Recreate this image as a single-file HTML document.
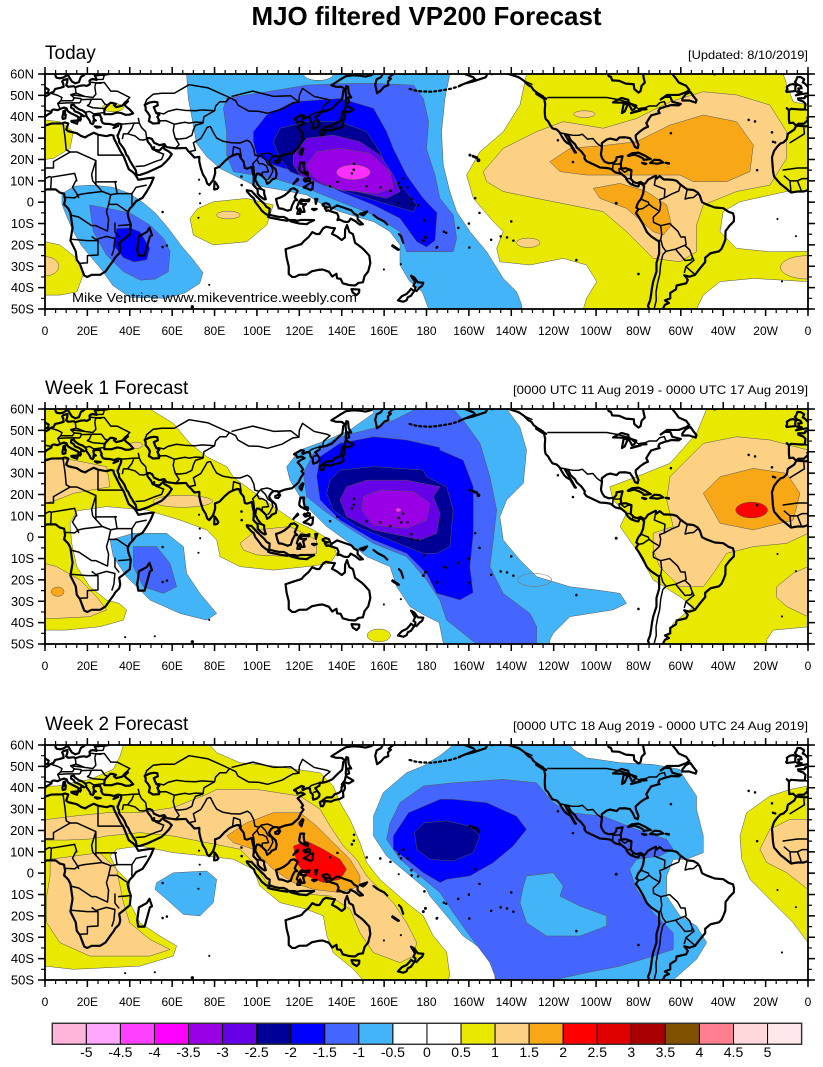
<!DOCTYPE html>
<html><head><meta charset="utf-8"><title>MJO filtered VP200 Forecast</title>
<style>
html,body{margin:0;padding:0;background:#fff;}
svg{display:block;}
.f{stroke:#555;stroke-width:0.5;vector-effect:non-scaling-stroke;stroke-linejoin:round}
.c{fill:none;stroke:#000;stroke-width:2.2;vector-effect:non-scaling-stroke;stroke-linejoin:round;stroke-linecap:round}
.b{fill:none;stroke:#000;stroke-width:0.7;vector-effect:non-scaling-stroke;stroke-linejoin:round}
.g{fill:none;stroke:#777;stroke-width:0.6;vector-effect:non-scaling-stroke}
.lb{fill:#44b4f8}.mb{fill:#4466ff}.bl{fill:#0000ff}.nv{fill:#000096}.vi{fill:#6600e6}.pu{fill:#9a00e6}.mg{fill:#ff30ff}
.ye{fill:#e8e800}.lo{fill:#fcd184}.or{fill:#f8a816}.rd{fill:#ff0000}.wh{fill:#fff}
text{font-family:"Liberation Sans",Arial,sans-serif;fill:#000}
</style></head>
<body>
<svg xmlns="http://www.w3.org/2000/svg" width="823" height="1067" viewBox="0 0 823 1067">
<defs>
<clipPath id="cp"><rect x="0" y="-50" width="360" height="110"/></clipPath>
<g id="coast">
<polygon class="c" points="-17,21 -16.5,14.5 -16,12 -13,8.5 -11,7 -8,4.5 -5,5 -2,5 1,6 5,6 7,4.5 9,4 9.5,1 9,-1 11,-3 12,-5 13,-12 12,-18 14.5,-23 15,-27 16.5,-29 18,-33 18.5,-34.3 20,-35 22,-34 26,-34 28.5,-32.5 31,-29 32.5,-27 33,-26 35,-24 35.5,-22 35,-19 37,-17.5 40,-15 40.5,-10.5 39.3,-7 39,-5 40,-3 41.5,-1.5 43,0.5 46,2 48,5 50,8.5 51.3,11.5 49,11.3 44,10.5 43.3,11.8 42.5,13 41.5,14 39.5,15.5 38.5,18 37.3,21 36.8,22 35.5,24 34,27 33.5,28 32.5,29.9 32.3,31.2 31,31.5 29,30.9 25,31.6 23,32.5 20,31 19,30.3 17,31 15,32.3 11,33.2 10,34 11,36.8 9.5,37.3 8,36.9 3,36.8 -1,35.5 -5.5,35.8 -6.5,34 -9.5,32 -10,29.5 -11.5,28 -13,27.5 -14.5,26 -16,24"/>
<polygon class="c" points="44,-25 47,-25 49.5,-16 50.5,-15.5 49.3,-12 48,-14 44.3,-16 43.8,-20 43.5,-22"/>
<polyline class="c" points="-10,44 -9,43 -9,39 -8.8,37 -7,37.2 -6,36.2 -5.5,36 -4.5,36.7 -2,36.7 -0.5,38 0,38.7 -0.3,39.5 0.5,40.5 3,42 3.2,43 4,43.4 6,43.1 7.5,43.8 9,44.3 10.2,43.9 10.5,43 11,42.4 12.5,41.5 14,40.8 15.6,40 15.8,38.5 16.6,38.2 17,39 16.6,39.7 17.2,40.5 18.5,40.2 17.5,40.9 16,41.8 14,42.6 13.6,43.5 12.3,44.3 12.4,45.5 13.7,45.6 14,44.9 15,44.2 16,43.5 17.5,43 19,42 19.5,41 19.5,40.3 20.5,39 21,38.3 21.5,37 22.5,36.5 23,37.3 22.8,38 24,38.2 23,39 22.8,40.5 24,40.8 26,40.8 26.2,40.1 26.8,39 26.5,38.5 27.3,37 28.2,36.7 30.5,36.6 32.5,36.1 34.5,36.8 36,36.5 35.9,35 35.5,34 35,33 34.5,31.5 34.2,31.3"/>
<polyline class="c" points="34.2,31.3 34.5,30 34.9,29.5 35,28 36.5,26 37.5,24.5 38.5,22 39.2,21.3 40,19.5 41.5,17 42.8,15 43.3,12.7 45,12.8 48.5,14 52,15.6 55,17 57,18.9 58.5,20.5 59.8,22.5 58.5,23.7 56.3,24.9 56,26.2 54,24.2 51.5,24.5 51.5,25.8 50.8,24.8 50,26.5 48.5,28.3 48,30 49.5,30 50.5,29.5 51.5,27.8 54,26.7 56.3,27.2 57.3,25.8 61.5,25.2 66.5,25.4 67.5,24 68.8,22.8 70.5,20.9 72.8,21.2 72.8,19 73.5,16 74.5,13 75.8,11 76.5,8.8 77.5,8 78.2,8.9 79.3,10.3 79.8,11.8 80.3,13.5 80.2,15.8 82.3,16.6 84.8,19.2 86.9,21 88.5,21.8 90.5,22.5 91.5,22.5 92.3,20.7 93.7,19 94.3,16 95.3,15.7 97.6,16.5 98,14 98.5,12 98.5,10 98.3,8 100.3,6 100.4,4 101.3,2.9 103.5,1.3 104.2,1.4 103.4,4 103.4,5.5 102,6.2 100.3,8.3 99.9,9.3 99.2,10.3 99.5,12.5 100,13.4 100.9,13.4 102.5,12.2 104.2,10.5 104.8,8.6 106,9.3 107,10.5 108.9,11.3 109.3,13.4 108.8,15.4 106.5,17.5 105.7,19 106.7,20.7 108,21.6 109.8,21.5 110.4,20.3 110.8,21.4 113,22.2 114.3,22.5 116.5,22.9 118.5,24.6 119.6,25.6 120.7,28 122,29.8 121,30.8 121.8,31.7 120.4,33.7 119.2,35 120.6,36.1 122.5,37 120.8,37.8 119,37.2 118.5,38.5 117.5,38.8 118,39.2 121,40.8 122.2,40.5 121.4,39.4 121.6,38.9 123.6,39.8 125,39.6 125.3,37.7 126.3,37 126.4,35 126.6,34.4 128.2,34.9 129.4,35.9 129.5,37.1 128.4,38.6 127.5,39.8 129.5,41 129.7,42.4 130.7,42.3 132.9,42.8 135.5,43.9 138.2,46.6 140.2,48.4 140.5,50.1 140.7,52 141.4,53 139.9,54 137.4,54 135.1,54.7 137,55.9 139.5,57.5 142,59 145.5,59.4 148.5,59.2 151.3,58.8 154,59.5 157,61.5 160,61 158.5,58.5 156.5,57.5 155.8,55 156.7,51 158.5,52.3 160,54 162,54.8 161.8,56.5 163.2,57.8 162.2,58.2 164,59.8 166,60.3 170,60 173,61.5"/>
<polyline class="c" points="-9,43 -8,43.7 -4,43.4 -1.5,43.4 -1.2,46 -2.2,47.1 -4.5,47.9 -4.7,48.6 -1.6,48.7 -1.3,49.6 0.2,49.5 1.6,50.2 2.5,51.1 4,51.6 4.8,53 7,53.5 8.8,54 8.6,55.5 8.1,56.5 8.6,57.1 10.6,57.7 10.5,56.2 10,54.7 11,54 13.5,54.3 14.3,53.8 16.5,54.5 18.5,54.7 19.7,54.4 21.2,55.2 21,56.8 21.6,57.4 22.6,57.7 24.3,57.2 24,58.3 23.5,59.2 26,59.6 28,59.6 30,60 29,60.5"/>
<polyline class="c" points="4.8,61 5,59 5.5,58.2 7,58 8.5,58.3 10.5,59.5 11.2,59 11.9,57.7 12.7,56.5 14.3,55.6 16,56.2 16.5,57.5 17,58.7 18.5,59.5 17.5,61"/>
<polyline class="c" points="21.4,61.5 21.5,60.5 22.8,60 26,60.4 28,60.6"/>
<polygon class="c" points="-5.7,50 -3,50.6 1.4,51.2 1.7,52.7 0.3,53.5 -0.5,54.5 -1.6,55.6 -2.5,56 -1.8,57.5 -3.5,58.6 -5,58.6 -5.6,57 -6.2,56.3 -5,55 -3.5,54.5 -3,53.4 -4.6,53.2 -4.2,52.2 -5.2,51.7 -3,51.5"/>
<polygon class="c" points="-10,51.6 -6,52 -6,53.9 -5.6,54.6 -7,55.3 -8.5,55 -10,54 -9.8,53 -10.3,52"/>
<polygon class="c" points="28,41.2 28,43 28.6,44.3 29.6,45.3 30.8,46.5 31.8,46.5 33.5,46 32.5,45.4 33.6,44.5 35,44.8 36.5,45.2 38,46.9 39.2,47.2 38.2,46.3 37.6,45.5 38.3,44.7 40,43.4 41.6,41.6 40,41 38,40.9 36,41.7 34,42 31.5,41.2 29,41.2"/>
<polygon class="c" points="47,45.5 49.2,46.6 51.2,47 53,46.8 53.2,45.3 51.3,44.5 52.5,41.7 54,41 53,40 54,38 53.8,37 51,36.8 49,38 49.5,40.2 48.6,41.8 47.5,43 47.5,44.5"/>
<polygon class="c" points="12.4,38 15.6,38.3 15.1,36.7 12.6,37.6"/>
<polygon class="c" points="8.4,39 9.6,39.2 9.8,41 8.5,41 8.2,40"/>
<polygon class="c" points="8.6,41.6 9.4,41.4 9.5,43 8.7,42.6"/>
<polygon class="c" points="23.5,35.5 26.3,35.2 24.5,34.9"/>
<polygon class="c" points="32.3,34.7 34.6,35.7 33,35.3"/>
<polygon class="c" points="79.8,6 80,9.7 81,8.5 81.8,7 81.2,6.2 80.2,6"/>
<polygon class="c" points="130.9,34 132,33.8 135,33.5 136.8,34.3 139,34.7 140.8,35.7 140.6,38 141.5,39.5 141.4,41.4 140,40.5 139.8,38.5 138.5,37.5 136.7,37 135.5,35.5 133,35.5 131.5,34.5"/>
<polygon class="c" points="129.7,33.3 131,33.9 131.9,33 131.2,31.4 130.2,31.3 129.8,32.7"/>
<polygon class="c" points="140,41.5 141.5,42.5 143.3,42 145.5,43.3 144.5,44 141.9,45.4 141.5,43.5"/>
<polygon class="c" points="142,46 143.5,46.7 143,49 144.5,49 143.3,51 143,54 142.2,54.3 141.8,52 142.1,49 141.9,47"/>
<polygon class="c" points="120.2,22.8 121,22 121.9,25 121.5,25.3 120.1,23.5"/>
<polygon class="c" points="108.6,19.2 110.6,20.1 111,19.7 110,18.3 108.7,18.5"/>
<polygon class="c" points="120,16 120.5,18.5 122.3,18.5 122,17 122.5,14.2 124,13.9 124,12.6 121.5,13.8 120.6,14.3 120,15"/>
<polygon class="c" points="122,7 123.5,7.8 125,9 126.5,9.3 126.2,6.3 125.4,5.6 124,6.3 122.2,6.8"/>
<polygon class="c" points="122.5,11 123.2,10.6 124,11.5 125,11 125,10 124,10 122.8,9.6 122,10.5"/>
<polygon class="c" points="117.5,9 119.5,10.5 119.2,11 117.2,8.5"/>
<polygon class="c" points="109,1.5 109.6,-1 110.3,-2.9 111.7,-3 114.5,-4 116,-3.5 116.6,-1.5 117.8,0.8 119,1 117.8,2.2 119.2,5.3 117.5,6.5 116,6.2 115,4.8 113,3.2 111.5,2.4 110,1.8"/>
<polygon class="c" points="95.2,5.6 97.5,5.2 100.3,2.2 103.5,-0.8 104.5,-2.2 106,-3 105.8,-5.8 104.5,-5.8 102.3,-4 101,-2.2 99.1,0.2 98.6,1.8 97.2,2.9 95.3,5"/>
<polygon class="c" points="105.2,-6.8 106,-5.9 108,-6.4 110.5,-6.9 112.7,-6.9 114.4,-7.8 114.4,-8.7 111,-8.2 108.7,-7.7 106.4,-7.3"/>
<polygon class="c" points="119,-5.5 119.5,-3.5 118.8,-2.8 119.8,0.1 120.8,1.3 123,0.9 124.8,1.4 124.5,0.4 121.5,0.6 120.2,-0.6 121.6,-1 123.2,-0.8 121.8,-2 122.5,-4.5 121.3,-4.6 120.3,-2.9 120.4,-5.5"/>
<polygon class="c" points="115,-8.3 118,-8.4 119,-8.7 120.8,-8.3 122.8,-8.3 125,-8.3 127,-8.4 124.5,-9.6 123.5,-10.3 120,-10 116,-9"/>
<polygon class="c" points="127.5,1.5 128.5,1.5 128,0 127.8,-0.8"/>
<polygon class="c" points="126,-3.2 128.2,-3.2 127,-3.8"/>
<polygon class="c" points="131,-1 132.5,-0.4 134,-1 135,-3.3 137.8,-1.5 141,-2.6 144.5,-3.8 146,-5.5 147.5,-6.2 147.5,-8 150,-10.3 148.5,-10.5 146.3,-8.8 144.2,-7.7 143.4,-9 142.6,-9.3 141,-9.1 139,-8.1 138,-8.4 138.5,-6.8 137.8,-5.2 135.2,-4.4 133.6,-3.8 132.8,-4.1 132,-2.8 133.5,-2.4 132.2,-2.2 131,-1.5"/>
<polygon class="c" points="148.5,-5.5 152,-4.3 151,-5.5 150,-6.2"/>
<polyline class="c" points="155,-6 157,-7.5 159,-8.5 160,-9 161.5,-10.5"/>
<polygon class="c" points="164,-20.2 167,-22.2 166.5,-22.3 163.8,-20.5"/>
<polyline class="c" points="167,-15 168,-16 169,-19"/>
<polygon class="c" points="113.5,-22 114,-26 115,-30 115,-33.6 116.6,-35 118,-35 119.9,-34 123.5,-33.9 126,-32.3 129,-31.7 131,-31.5 134,-32.6 135.5,-34.8 137.5,-33.5 137.8,-35.6 139.5,-35.9 140.5,-38 143.5,-38.8 146.3,-39 147.9,-37.8 150,-37.5 150.8,-34.5 152.5,-32.4 153.5,-28.5 153,-25 150.8,-22.6 149.3,-21.2 146.3,-19 145.3,-15 143.6,-14 142.5,-10.7 141.6,-12.9 141.5,-16.5 140,-17.7 137.7,-16 135.4,-14.8 136.8,-12.2 135,-12 132.6,-11.5 131.3,-12.2 129.5,-14.9 128,-14.9 126.1,-14 124.4,-16.3 122.2,-18.2 121,-19.6 117.4,-20.7 114.2,-21.8"/>
<polygon class="c" points="144.6,-40.7 148.3,-40.9 148.2,-42.3 147,-43.5 145.2,-42.3"/>
<polygon class="c" points="172.7,-34.4 174.3,-35.3 175.9,-37.5 178.5,-37.7 177.9,-39.2 176.8,-39.9 175.3,-41.6 174.6,-41.2 174.8,-39.8 173.8,-39.2 174.6,-37.5"/>
<polygon class="c" points="172.7,-40.5 174.2,-41.7 173.2,-43 172.7,-43.8 171.2,-44.5 170.6,-45.9 169,-46.6 166.5,-46 168.4,-44 170.6,-43 172.1,-41.4"/>
<polyline class="c" points="-165,62 -162,60 -158,58.5 -157,57.5 -162,55.5 -164.5,54.5 -162,55.5 -158,56.5 -155,57.5 -152,58.5 -151,60.7 -149,59.9 -146,60.8 -141,59.9 -138,59 -136,58.2 -134,56.8 -132,54.8 -130.5,54 -129.5,52.5 -127.5,51 -125,49.5 -124.5,48.4 -124,46 -124.2,43 -124.1,40.5 -123.8,39 -122.5,37.7 -121.9,36.5 -120.6,34.6 -118.5,34 -117.2,32.7 -116,30.5 -115,29 -114,28 -112.2,27 -110,23.3 -109.5,23.2 -110.3,24.3 -111.5,26.5 -112.8,28.5 -114.7,31.7 -113,31.2 -112,29 -110,27.2 -109,25.5 -107,23.8 -105.3,21.5 -105.5,20.5 -104.5,19.2 -101,17.6 -98,16.2 -95,16 -93,15.6 -91,14 -88,13.2 -86,11.6 -85.7,10.8 -85,9.7 -83.5,8.4 -81,7.5 -80,7.4 -79.5,8.9 -78,8.3 -77.3,7.5 -77.8,4 -78.8,1.5 -80,0 -80.5,-1 -81,-2.5 -80,-3.3 -81.2,-5 -79.8,-7 -78,-10 -76,-14 -74,-16 -71.3,-17.8 -70.3,-18.3 -70.2,-24 -71.5,-28.5 -71.5,-32.5 -73,-37 -73.6,-40 -74,-43 -74.5,-46 -75.5,-48.5 -74.5,-51 -73,-54 -70,-55 -68.5,-52.5 -69,-51 -67.5,-48 -65.6,-47.2 -67.5,-46 -65,-45 -65,-42.5 -62.3,-40.8 -62,-39 -57.5,-38 -56.7,-36.4 -57.5,-35.2 -58.4,-34.2 -56,-34.9 -53.3,-34 -51,-31 -48.5,-28 -48.5,-26 -46,-23.9 -42,-23 -40.8,-21.8 -39.8,-19.6 -39,-17.5 -38.9,-13.5 -37,-11 -35,-9 -34.9,-7 -35.4,-5.2 -37.5,-4.5 -40,-2.8 -44,-2.5 -48,-1 -50,0 -51,3 -52,4.5 -54,5.7 -57,6 -58.5,7 -60.5,8.5 -62,10 -64,10.5 -66,10.6 -68,10.6 -70,12.2 -71.5,11 -71.8,12.4 -74,11.3 -75.5,10.5 -76.8,8.7 -77.5,8.6 -79,9.5 -80.6,8.9 -82,9.3 -83.6,10.8 -83.5,12.5 -83.3,15 -86,15.9 -88.2,15.7 -88.3,18.2 -87.5,21.5 -90.3,21 -90.5,19.7 -91.5,18.5 -94,18.2 -96,19 -97.2,20.7 -97.7,22.3 -97.2,25.9 -97.3,27.6 -95,29.3 -93.3,29.8 -90.3,29.1 -89,30.3 -86.5,30.4 -84,30 -82.6,28 -81.7,25.9 -80.4,25.2 -80,26.8 -81.2,29.8 -81.3,31.3 -79.2,33.2 -77,34.7 -75.5,35.3 -76.3,37 -75.2,38.8 -74,40.6 -72,41.2 -70,41.7 -70.6,42.6 -70,43.8 -67,44.8 -66,45 -64.5,45.5 -61,45.3 -60,46 -64,47 -65,49.3 -67.5,49.3 -69.5,48.1 -66.5,50.2 -61,50.2 -57.5,51.5 -56,52.5 -57.5,54.5 -61,56 -62,57.5 -64.3,60.3 -66,62"/>
<polyline class="c" points="-95,61 -94,59 -93,58.7 -92.4,57 -89,56.8 -86,55.5 -82.2,55.2 -82,53 -80,51.3 -79,52 -78.5,54.5 -77,56 -77.5,58 -78,61"/>
<polygon class="c" points="-59.3,47.6 -56,47.6 -53,46.6 -52.6,47.8 -54,49.5 -55.5,51.6 -57.5,50.7 -59.3,48.5"/>
<polygon class="c" points="-85,21.8 -83,22.9 -80,23.2 -77,21.8 -75.6,21 -74.2,20.2 -77.5,19.8 -78,20.6 -80,21.6 -82,22.3 -84.8,21.6"/>
<polygon class="c" points="-74.5,18.3 -72.5,19.9 -69.9,19.7 -68.3,18.6 -71,18 -72.5,18.2"/>
<polygon class="c" points="-78.3,18.4 -76.3,18 -77,17.8"/>
<polygon class="c" points="-67.2,18.4 -65.6,18.3 -65.7,18"/>
<polygon class="c" points="-92,46.7 -84.5,46.5 -84.8,47.9 -88,48.8 -90,47.8"/>
<polygon class="c" points="-87.8,41.7 -87,46 -85,45.8 -86.5,42.5"/>
<polygon class="c" points="-84.5,45.8 -83,43 -82,43.5 -81,45.2 -84,46.2"/>
<polygon class="c" points="-83.5,41.7 -79,42.9 -81,42.6"/>
<polygon class="c" points="-79.8,43.3 -76.2,43.5 -77,44 -79,43.8"/>
<polygon class="c" points="-128.3,50.8 -123.5,48.4 -125,48.7"/>
<polyline class="c" points="-50,62 -48,61 -44,59.8 -42,61"/>
<g class="b">
<polyline points="-2,35 -1.7,32 -8.7,27.7"/>
<polyline points="8.5,36.9 9.5,30 10,24.5 11.9,23.5 15,23.5 24,19.5 24,8"/>
<polyline points="25,31.6 25,22 36.9,22"/>
<polyline points="-12,15 -5,16 4,16 4,19 11.9,23.5"/>
<polyline points="3,11.7 14,13.5 15,10 14.5,10 13,7 15,4 16,2"/>
<polyline points="24,19.5 22,13 22.5,10 27,5"/>
<polyline points="33,10 34,4 41,4 43,7 48,8"/>
<polyline points="9.5,2.2 11.3,2.2 14,2 16,3.5 18.5,4 27,5 31,3.5 34,4"/>
<polyline points="12,-6 16,-7 22,-11 24,-11 29.5,-13.5 30,-8 29,-4.5 30,-1 31,3.5"/>
<polyline points="11.7,-17.3 20,-18 25,-18 25,-24.7 20,-25 20,-28.4 16.5,-28.6"/>
<polyline points="22,-16 24,-17.5 29,-16 33,-17 32.5,-22 31.5,-25"/>
<polyline points="30,-1 34,-1 37.6,-3.5 39.5,-4.7"/>
<polyline points="34.5,-11 40.4,-10.5"/>
<polyline points="33,-9.5 33,-14 35,-16.5"/>
<polyline points="-11.4,12.4 -8.5,10 -5,10 -2.8,11 0,11 2,12 3,11.7 2.7,6.3"/>
<polyline points="-8.5,10 -8,4.4"/><polyline points="-5,10 -3,5"/><polyline points="-0.1,11 -0.1,5.8"/>
<polyline points="24,9.5 34,9.5"/><polyline points="41,-1.5 41,4"/>
<polyline points="-1.8,43.4 3.2,42.4"/>
<polyline points="2.5,51.1 6,50 8,49 7.5,47.5 6,46.2 7,44"/>
<polyline points="14.3,53.8 14.6,51 12.1,50.3 13.8,48.8 13,47.5 10,47.5 7.5,47.5"/>
<polyline points="6,46.2 10.5,46.5 13.7,46.5 16.5,46.5"/>
<polyline points="23.5,54 24,50.5 22.6,49 18.8,49.5 16.5,50.4 14.6,51"/>
<polyline points="12.1,50.3 18.8,49.5"/><polyline points="13.8,48.8 17,48.5 17,47.7 16.5,46.5"/>
<polyline points="17,48 22.6,48.2 26.6,48.2 28.2,46 29.6,45.3"/>
<polyline points="22,48.4 21,46 20,45.2 22.6,44.2 28,43.8"/>
<polyline points="19,42 21,42.5 23,41.3 26,41.7 28,42"/>
<polyline points="23.5,54 24,55.8 28,56 31,52 34,52 38,50 40,49 38,47"/>
<polyline points="21,56.2 26.6,55.6"/><polyline points="21.6,57.4 27.4,57.5 28,59.5"/>
<polyline points="47,45.5 48,48 51,50.5 55,51 61,51 68,55 77,53.5 87,49"/>
<polyline points="53,42 56,41.3 58,42.5 62,43.5 66,43 71,42.8 74,43.2 80,42.8 80.5,45 82.5,47 85.5,47 87,49"/>
<polyline points="53,38 57,38.2 61,36.5 66,37.4 68,37 71,37.5 75,37.3"/>
<polyline points="44,39.5 44.5,37 45.5,35 47.5,33 48,30"/>
<polyline points="36,36.5 42,37 44.5,37"/>
<polyline points="42,37 41,34.5 39,32 37,32 36.5,29.5"/>
<polyline points="39,32 42.5,31 44.7,29.2 46.5,29.1 48,29.5"/>
<polyline points="42.7,16.7 47,17 52,19 55,20 56,22.5 52,24"/>
<polyline points="61,36.5 60.5,33.6 61,31.5 61.5,29.8 63,29.5 66.5,29.9 69.3,31.3 70,33.8 71,36 74.5,37"/>
<polyline points="61.5,29.8 62.5,28.3 63.3,27 61.6,25.2"/>
<polyline points="68.2,23.7 71,24.3 70,27.8 73.5,29.8 75,32.3 76.5,35 78,35.5"/>
<polyline points="78,35.5 79.5,32.5 81,30 84,28.5 88,27.8 92,27.7 95.5,29 97,28"/>
<polyline points="88.5,21.8 89,26 92,25 92.6,21"/>
<polyline points="97,28 98.5,25 99,22 101,21.5 100,20 98,18 98.5,16.5 99,10.5"/>
<polyline points="101,21.5 102,22.5 105,23 106.5,22.5 108,21.5"/>
<polyline points="102,22 104,20 105,18 107,16.5 107.5,14.5 106,11.5 105,10.5"/>
<polyline points="100,20 101,18 102.5,18 104.5,17 105.5,14.3 102.5,14 102.5,12.2"/>
<polyline points="100.3,6.5 102,6"/>
<polyline points="87,49 90,47.5 91,45.5 96,42.7 101,42.5 105,41.6 112,43.6 114,44.8 117,46.5 119.8,46.8 116,49.8 108,49.5 98,52 88,49.5"/>
<polyline points="119.8,46.8 120,50 121.5,53.3 127,49.5 133,48.2 134.5,47.5 131.5,45 131,42.5 130.5,42.5"/>
<polyline points="124.3,40 126,41.2 128.5,42 130.5,42.5"/>
<polyline points="126.5,37.8 128.5,38.3"/>
<polyline points="74.5,37 75,40 80,42.8"/>
<polyline points="-123,49 -95,49 -89.5,48 -84,46.5 -82.5,45 -79,43.3 -75,45 -71.5,45 -70,46.5 -67.8,47.1 -67,45"/>
<polyline points="-141,59.9 -141,62"/><polyline points="-137,59 -133.5,56.5 -130,55"/>
<polyline points="-117.1,32.5 -111,31.3 -108.2,31.3 -106.5,31.8 -104,29.5 -101.5,29.8 -99.5,27.5 -97.2,25.9"/>
<polyline points="-92.2,14.5 -92,17.8 -89,17.9 -88.3,18.2"/>
<polyline points="-89.2,15.9 -89,14.3 -87.5,13"/><polyline points="-88.9,15.9 -86.5,14 -85,14.9 -83.2,15"/>
<polyline points="-85.7,11.1 -83.7,11"/><polyline points="-82.9,8.2 -82.6,9.6"/><polyline points="-77.9,7.2 -77.3,8.7"/>
<polyline points="-71.9,11.5 -72.5,8 -70,7 -67.5,6 -67.8,2 -70,1.2 -69.5,-1 -70,-4.2"/>
<polyline points="-78.8,1.4 -75.3,0 -75,-1 -78,-3 -80.3,-3.4"/><polyline points="-75,-1 -73,-2.5 -70,-4.2"/>
<polyline points="-60,8.5 -61,5.2 -64,4 -67.8,2"/><polyline points="-57,6 -58,1.5 -56,2 -54,2.2 -51.7,4.2"/>
<polyline points="-70,-4.2 -73,-7 -72.9,-9.4 -69.5,-11 -65.3,-10 -61.5,-13.5 -60,-16.3 -58,-16.3 -57.5,-19.9 -58.2,-20.2"/>
<polyline points="-69.5,-11 -69,-15 -69.5,-17.5 -70.3,-18.3"/><polyline points="-69.5,-17.5 -68.5,-21 -67,-23 -68.5,-24.5"/>
<polyline points="-68.5,-24.5 -69.5,-29 -70,-34 -71,-38 -71.7,-42 -71.6,-46 -72.5,-49.5 -71.9,-52"/>
<polyline points="-67,-23 -62.5,-22 -58.2,-20.2"/><polyline points="-62.5,-22 -61,-23.8 -58,-27.3 -55,-27 -54.6,-25.6"/>
<polyline points="-58.2,-20.2 -55.8,-22.3 -54.6,-25.6 -53.8,-27.2 -57.6,-30.2 -58.4,-33.2"/>
<polyline points="-57.6,-30.2 -53.5,-33.7"/>
</g>
</g>
<g id="dots" fill="#000">
<polyline class="c" stroke-dasharray="2 3" points="172,53 175,52.2 178,51.8 180,51.8 182,51.7 185,52 188,52.5 191,53 194,53.8 196,54.5"/>
<circle cx="200.5" cy="22" r="0.7"/><circle cx="202" cy="21.5" r="0.7"/><circle cx="203" cy="21.1" r="0.7"/><circle cx="203.7" cy="20.8" r="0.7"/><circle cx="204.5" cy="19.6" r="0.9"/>
<circle cx="134.5" cy="7.5" r="0.6"/><circle cx="138" cy="9.5" r="0.6"/><circle cx="144.8" cy="13.5" r="0.6"/><circle cx="145.7" cy="15.2" r="0.6"/><circle cx="145.8" cy="18" r="0.6"/>
<circle cx="151.8" cy="7.4" r="0.6"/><circle cx="158.2" cy="6.9" r="0.6"/><circle cx="163" cy="5.3" r="0.6"/><circle cx="168" cy="7" r="0.6"/><circle cx="171" cy="7" r="0.6"/>
<circle cx="169" cy="11" r="0.6"/><circle cx="167" cy="9" r="0.6"/><circle cx="172.9" cy="1.4" r="0.6"/><circle cx="173" cy="-1" r="0.6"/><circle cx="176" cy="-1.5" r="0.6"/>
<circle cx="179" cy="-8.5" r="0.6"/><circle cx="178.5" cy="-18" r="0.7"/><circle cx="179.5" cy="-16.5" r="0.7"/><circle cx="185" cy="-21" r="0.6"/><circle cx="188.2" cy="-13.8" r="0.6"/>
<circle cx="189.3" cy="-14.3" r="0.6"/><circle cx="184.8" cy="-21.2" r="0.6"/><circle cx="200.2" cy="-21.2" r="0.6"/><circle cx="210.5" cy="-17.6" r="0.6"/><circle cx="215" cy="-16" r="0.6"/>
<circle cx="218" cy="-16.5" r="0.6"/><circle cx="220" cy="-9" r="0.6"/><circle cx="221" cy="-18" r="0.6"/><circle cx="203" cy="1.9" r="0.6"/><circle cx="205" cy="-5" r="0.6"/>
<circle cx="200" cy="-10" r="0.6"/><circle cx="195" cy="-12" r="0.6"/><circle cx="250.7" cy="-27.1" r="0.6"/><circle cx="269.5" cy="-0.5" r="0.7"/><circle cx="280" cy="-33.6" r="0.6"/>
<circle cx="242" cy="29" r="0.6"/><circle cx="249.1" cy="18.8" r="0.6"/><circle cx="295.3" cy="32.3" r="0.6"/><circle cx="332" cy="38.5" r="0.6"/><circle cx="335" cy="37.8" r="0.6"/>
<circle cx="343" cy="32.7" r="0.6"/><circle cx="344.5" cy="28" r="0.6"/><circle cx="343.5" cy="28.3" r="0.6"/><circle cx="336" cy="15" r="0.6"/><circle cx="345.6" cy="-7.9" r="0.5"/>
<circle cx="354.3" cy="-15.9" r="0.5"/><circle cx="347.7" cy="-37.1" r="0.5"/><circle cx="55.5" cy="-21" r="0.6"/><circle cx="57.5" cy="-20.3" r="0.6"/><circle cx="55.5" cy="-4.6" r="0.6"/>
<circle cx="73" cy="4" r="0.5"/><circle cx="73.2" cy="-0.5" r="0.5"/><circle cx="72.4" cy="-7.3" r="0.5"/><circle cx="92.7" cy="12" r="0.6"/><circle cx="92.8" cy="8" r="0.6"/>
<circle cx="72.7" cy="10.5" r="0.5"/><circle cx="77.5" cy="-38.7" r="0.5"/><circle cx="69.5" cy="-49" r="0.8"/><circle cx="37.8" cy="-46.8" r="0.5"/><circle cx="51.8" cy="-46.4" r="0.5"/>
<circle cx="166.9" cy="-0.5" r="0.5"/><circle cx="159.9" cy="-31.5" r="0.5"/><circle cx="167.9" cy="-29" r="0.5"/>
</g>
</defs>

<rect width="823" height="1067" fill="#fff"/>
<text x="426.5" y="25" font-size="26" font-weight="bold" text-anchor="middle" textLength="350" lengthAdjust="spacingAndGlyphs">MJO filtered VP200 Forecast</text>

<!-- PANEL 1 -->
<g transform="matrix(2.119444 0 0 -2.136364 45 202.182)">
<g clip-path="url(#cp)">
<rect x="0" y="-50" width="360" height="110" fill="#fff"/>
<polygon class="f lb" points="66.8,60 67.6,48.6 70,36 71.5,27.5 76.3,21.3 82.6,15.8 92,11.2 98.3,8 110,6 123.5,3.4 131.3,-1.3 139.2,-4.4 147,-6.8 155,-9.1 162.8,-13.8 167.5,-20 167.5,-29.4 172,-37 178,-42 181,-50 225,-50 224.9,-48 222.5,-41.9 216.2,-35.7 208.4,-23.2 200.5,-13.8 194.2,-4.4 191,5 187.9,17.4 187.1,33 188.7,48.6 191,60"/>
<ellipse class="f wh" cx="129" cy="60" rx="7" ry="3"/>
<polygon class="f lb" points="8,4 14,7.5 22,8 32,7 40,4 46,0 52,-5 58,-12 64,-20 70,-27 74.5,-33 73,-38 66,-42.5 57,-45 40,-44.5 32,-39 27,-32 22,-26 17,-20 13,-13 10,-6 8,-1"/>
<polygon class="f mb" points="21,-1.3 30,-3 40,-5 49.5,-10.7 56,-17 59,-23 58.2,-32.5 52,-36 45,-36.5 37,-32.5 29,-24.7 22.8,-13.8"/>
<polygon class="f bl" points="33.8,-12.3 40,-12 44.8,-13.8 49.5,-21.6 48,-27 42,-28 37,-26 32.2,-20"/>
<polygon class="f mb" points="85.7,48.6 95.2,50.2 110,52.5 123.5,54.8 140,55.5 155,55.6 173.8,54.8 178.5,48.6 181,37.7 180,25 184,12.7 186.3,1.8 192.6,-6 194.2,-17 192.6,-23.2 183.2,-23.2 176.9,-23.2 170.6,-23.2 167.5,-13.8 155,-6 139.2,0.2 123.5,6.5 107.7,11.2 88.9,14.3 85.7,22 85.7,33 84.2,43.9"/>
<polygon class="f bl" points="98.3,28.3 98.3,33 104.6,40.8 117.2,47 139.2,48.6 155,44 161.2,33 164.3,25.2 170.6,12.7 178.5,1.8 185,-5 184,-18 180,-21 175.4,-18.5 167.5,-7.6 155,-1.3 139.2,5 123.5,12.7 107.7,17.4 99.9,22"/>
<polygon class="f nv" points="107.7,28.3 110.9,34.6 123.5,37.7 139.2,37.7 151.8,33 158,23.6 162.8,12.7 170.6,5 175.4,-1.3 173.8,-4.4 162.8,-1.3 147,3.4 131.3,8 115.6,14.3 110.9,20.5"/>
<polygon class="f vi" points="117.2,22 123.5,29.9 136,31.4 148.6,28.3 158,22 164.3,12.7 167.5,5 161.2,1.8 147,5 131.3,8 120.3,12.7 117.2,17.4"/>
<polygon class="f pu" points="123.5,17.4 128.2,23.6 139.2,25.2 153.3,22.9 162.8,14.3 164.3,6.5 156.5,4.1 139.2,5.7 129.8,9.6 125,13.5"/>
<ellipse class="f mg" cx="145.5" cy="14" rx="8" ry="3.5"/>
<polygon class="f ye" points="0,38.5 7,37.7 13.4,33 11.8,25.2 4,20.5 0,20"/>
<ellipse class="f ye" cx="32" cy="44.3" rx="5" ry="2"/>
<polygon class="f ye" points="0,-18.5 7,-20 15,-26.3 18,-34 15,-42 7,-43.5 0,-43.5"/>
<ellipse class="f lo" cx="0" cy="-30" rx="6.5" ry="4.5"/>
<polygon class="f ye" points="68.4,-7.6 72,-3 79.4,0.2 95.2,1.8 107.7,-1.3 104.6,-10.7 95.2,-18.5 79.4,-20 70,-15.4"/>
<ellipse class="f lo" cx="86.5" cy="-6" rx="5.5" ry="1.8"/>
<polygon class="f ye" points="227.2,60 224.1,45.5 216.2,33 205.2,23.6 198.9,12.7 202.1,1.8 211.5,-9.1 216.2,-13.8 213.1,-21.6 214.6,-27.9 228.8,-29.4 244.5,-26.3 255.5,-29.4 260.3,-37.2 255.5,-45 254,-50 307.4,-50 310.6,-43.5 318.5,-37.2 334.2,-35.7 360,-37.2 360,-23 342,-23.2 326.3,-21.6 318.5,-13.8 320,-4.4 327.9,0.2 349.9,5 360,5 360,45.5 353,47 350,55 348.3,60"/>
<polygon class="f lo" points="208.4,9.6 206.8,14.3 216.2,25.2 231.9,33 244.5,37.7 263.4,34.6 279.1,39.2 294.9,47 310.6,51.7 326.3,50.2 342,45.5 349.9,33 349.9,20.5 342,8 326.3,5 310.6,-1.3 307.4,-10.7 307.4,-23.2 299.6,-27.9 287,-26.3 274.4,-13.8 263.4,-4.4 247.7,-1.3 231.9,1.8 216.2,5"/>
<ellipse class="f lo" cx="254.5" cy="41.2" rx="5" ry="1.6"/>
<ellipse class="f lo" cx="228" cy="-19" rx="5.5" ry="2.2"/>
<ellipse class="f lo" cx="360" cy="-30.5" rx="13" ry="5.5"/>
<polygon class="f or" points="238.2,18.9 247.7,25.2 265,26.7 279.1,28.3 294.9,36.1 310.6,40.8 326.3,37.7 334.2,26.7 332.6,14.3 321.6,9.6 305.9,9.6 299.6,12.7 279.1,12.7 255.5,12.7 243,14.3"/>
<polygon class="f or" points="258.7,6.5 271.3,8.8 283.8,5 293.3,-1.3 295.6,-10.7 291.7,-15.4 287,-13.8 274.4,-2.9 261.8,1.8"/>
<use href="#coast"/><use href="#coast" x="360"/>
<use href="#dots"/>
</g></g>

<!-- PANEL 2 -->
<g transform="matrix(2.119444 0 0 -2.136364 45 537.182)">
<g clip-path="url(#cp)">
<rect x="0" y="-50" width="360" height="110" fill="#fff"/>
<polygon class="f ye" points="0,60 49.5,60 60.5,53.3 68.4,43.9 76.3,37.7 85.7,33 89,28 95,23.6 101.4,19 107.7,14.3 117,8 126.6,3.4 134.5,-1.3 137.6,-7.6 134.5,-12.3 123.5,-13.8 107.7,-15.4 92,-13.8 82.6,-9.1 81,-1.3 76.3,3.4 63.7,8 48,12.7 29,14.3 15,12.3 11.8,6.5 12.6,-2.9 15,-13.8 21,-23 29,-29.4 35,-31 38.5,-34 37,-38.8 26,-41.9 10,-43.5 0,-43.5"/>
<polygon class="f lo" points="0,36.9 13.4,36.1 29.1,33 30.7,23.6 21.2,22 13.4,20.5 5.5,17.4 0,15.8"/>
<ellipse class="f lo" cx="65" cy="16.8" rx="14" ry="2.8"/>
<ellipse class="f lo" cx="43" cy="43" rx="3" ry="1.5"/>
<polygon class="f lo" points="92,-2.9 99.9,3.4 115.6,5 128.2,-1.3 128.2,-7.6 115.6,-9.1 99.9,-8.3 93.6,-6"/>
<polygon class="f lo" points="0,-12.3 5.5,-13.8 16.5,-20 24.4,-27.9 29.1,-34 21.2,-37.2 5.5,-38 0,-38"/>
<ellipse class="f or" cx="6" cy="-25.5" rx="3" ry="2.2"/>
<ellipse class="f ye" cx="157.5" cy="-46" rx="5.5" ry="3"/>
<polygon class="f lb" points="30.7,-1.3 41.7,1.8 57.4,1.8 65.3,-4.4 66.8,-16.9 73.1,-26.3 81,-35.7 76.3,-38.8 63.7,-35.7 49.5,-29.4 38.5,-18.5 32.2,-9.1"/>
<polygon class="f mb" points="41.7,-4.4 52.7,-4.4 59,-12.3 62.1,-23.2 55.8,-26.3 46.4,-23.2 41.7,-13.8"/>
<polygon class="f lb" points="155,60 155,58 143.9,50.2 132,45 120.3,40.8 114,33 115.6,26.7 120.3,19 123.5,14.3 132.9,5 143.9,-2.9 151.8,-9.1 162.8,-13.8 166,-23.2 172.2,-32.5 178,-36 186,-40 188,-50 238.2,-50 238.2,-48 239.8,-45 247.7,-37.2 268.1,-34 274.4,-31 271.3,-26.3 260.3,-24.7 247.7,-23.2 232,-18.5 224.1,-10.7 216.2,-1.3 214.6,9.6 217.8,17.4 225.7,25.2 227.2,40.8 224,51.7 217.8,60"/>
<polygon class="f mb" points="155,51 143,48 136,45.5 126.6,39.2 121.9,29.9 123.5,19 131.3,12.7 142.3,5 155,-2.9 170.6,-9.1 180,-20 186.3,-29.4 189.5,-38.8 203.6,-50 231.9,-50 232,-41.9 228.8,-35.7 216.2,-26.3 209.9,-13.8 211.5,-1.3 213.1,12.7 209.9,28.3 205.2,44 197.3,54.8 192.6,60 175,60 165,55"/>
<polygon class="f bl" points="129.8,37.7 139.2,44 155,47 170.6,45.5 186.3,42 186.3,40.8 197.3,36.1 202.1,23.6 202.1,1.8 200.5,-13.8 202,-26 195.8,-29.4 184.8,-26.3 180,-16.9 170.6,-7.6 155,-1.3 139.2,8 129.8,17.4 128.2,28.3"/>
<polygon class="f nv" points="134.5,26.7 139.2,31.4 155,33 178.5,31.4 180,28.3 189.5,23.6 192.6,12.7 191,-4.4 184.8,-7.6 178.5,-7.6 162.8,-1.3 147,5 136,12.7 132.9,20.5"/>
<polygon class="f vi" points="142.3,23.6 151.8,26.7 170.6,26.7 186.4,23.6 183.2,19 186.3,11.2 184.8,1.8 176.9,-1.3 170.6,0.2 155,3.4 142.3,9.6 139.2,17.4"/>
<polygon class="f pu" points="150.2,19 158,22 173.8,21.3 181.6,15.8 180,8 170.6,4.1 155,5.7 149.5,12.7"/>
<ellipse class="f mg" cx="166.7" cy="12.7" rx="1.3" ry="0.9"/>
<ellipse class="g" cx="231" cy="-20" rx="8" ry="3"/>
<polygon class="f ye" points="312.2,60 307.4,48.6 294.9,34.6 279.1,28.3 266.5,23.6 268,17.4 274.4,11.2 271.3,5 279.1,-6 287,-20 299.6,-27.9 305.9,-32.5 296.4,-40.3 291.7,-50 340.5,-50 340.5,-48 343.6,-43.5 360,-42 360,60"/>
<polygon class="f lo" points="286.9,1.8 296.4,5 293.3,17.4 294.9,28.3 310.6,43.9 326.3,47 342,45.5 360,40.8 360,1.8 349.9,-2.9 334.2,-4.4 321.6,-7.6 315.3,-16.9 310.6,-23.2 299.6,-23.2 290,-13.8 287,-6"/>
<polygon class="f lo" points="345.2,-23.2 353,-16.9 360,-13.8 360,-37.2 350,-32.5 345,-28"/>
<polygon class="f or" points="310.6,20.5 318.5,28.3 334.2,32.2 349.9,29.9 356.2,20.5 353,8 334.2,3.4 318.5,6.5"/>
<ellipse class="f rd" cx="333.4" cy="12.7" rx="7.5" ry="3.7"/>
<use href="#coast"/><use href="#coast" x="360"/>
<use href="#dots"/>
</g></g>

<!-- PANEL 3 -->
<g transform="matrix(2.119444 0 0 -2.136364 45 873.182)">
<g clip-path="url(#cp)">
<rect x="0" y="-50" width="360" height="110" fill="#fff"/>
<polygon class="f ye" points="0,40.8 5.5,40.8 21.2,43.9 32.2,48.6 35.4,54.8 37,60 77.8,60 81,56.4 92,51.7 107.7,50.2 129.8,47 136,40.8 139.2,33 143.9,25.2 148.6,14.3 151.8,4.9 158,-2.9 170.6,-13.8 178.5,-20 183,-29 189.5,-37 191,-48 190,-50 150,-50 145.5,-45 136,-37.2 133,-29.4 131.3,-20 123.5,-16.9 110.9,-13.8 101.4,-6 98.3,1.8 88.9,6.5 76.3,8 60.5,9.6 44.8,12.7 33.8,11.2 30.7,8 33.8,1.8 40,-4.4 40,-13.8 44.8,-23.2 54.2,-29.4 62.1,-34 60.5,-38.8 44.8,-43.5 13.4,-45 0,-43.5"/>
<polygon class="f lo" points="0,25 13.4,26.7 29.1,28.3 44.8,28.3 60.5,30.7 76.3,36.9 81,39.2 99.9,39.2 120.3,36.1 129.8,29.9 134.5,22 140.8,12.7 147,6.5 151.8,-1.3 158,-7.6 164.3,-13.8 170.6,-23.2 175.4,-32.5 173.8,-38.8 167.5,-41.9 155,-37.2 148.6,-27.9 144,-16.9 134.5,-10.7 115.6,-9.1 104.6,-4.4 98.3,5 92,11.2 76.3,14.3 60.5,17.4 44.8,19 29.1,17.4 21.2,16 10,15.5 0,15.5"/>
<polygon class="f lo" points="2.4,6.5 25.9,9.6 33.8,1.8 37,-13.8 40,-23.2 49.5,-31 59,-35.7 49.5,-38.8 21.2,-38.8 7,-32.5 0.8,-23.2 0.8,-10.7 2.4,-1.3"/>
<polygon class="f or" points="85.7,17.4 95.2,23.6 107.7,28.3 120.3,28.3 128.2,22 136,14.3 143.9,6.5 148.6,-1.3 148.6,-6 139.2,-9.1 126.6,-7.6 117.2,-4.4 107.7,1.8 98.3,11.2 88.9,14.3"/>
<polygon class="f rd" points="117.2,12.7 123.5,15 131.3,11.2 139.2,6.5 142.3,1.8 139.2,-2.9 131.3,-4.4 123.5,-1.3 118.7,4.9"/>
<polygon class="f lb" points="52.7,-4.4 60.5,0.2 76.3,1 81,-2.9 79.4,-13.8 73.1,-20 65.3,-19.3 57.4,-12.3 51.9,-7.6"/>
<polygon class="f lb" points="192.6,60 247.7,60 249.2,58 255.5,54 271.3,51.7 287,50.9 299.6,48.6 301.1,45.5 307.4,36.1 307.4,29.9 310.6,17.4 310.6,9.6 302.7,6.5 296.4,6.5 293.3,-1.3 293.3,-10.7 299.6,-20 307.4,-24.7 312.2,-32.5 307.4,-40.3 296.4,-50 212.3,-50 212.3,-48 211.5,-45 208.4,-37.2 197.3,-29.4 189.5,-20 181.6,-10.7 180,-7.6 170.6,0.2 161.2,8 155,17.4 155,26.7 159.6,37.7 170.6,47 178.5,50.2 186.3,55"/>
<polygon class="f mb" points="161.2,15.8 162.8,23.6 167.5,33 178.5,40.8 192.6,42.3 216.2,43.9 231.9,42.3 239.8,33 247.7,28.3 263.4,26.7 279.1,20.5 293.3,15.8 296.4,11.2 290,8 279.1,6.5 275.9,1.8 279.1,-7.6 287,-18.5 296.4,-27.9 296.4,-35.7 287,-38.8 271.3,-43.5 255.5,-46.6 239.8,-50 213,-50 209.9,-41.9 200.5,-29.4 192.6,-18.5 186.4,-9.1 176.9,-1.3 167.5,6.5"/>
<polygon class="f lb" points="227.2,-1.3 239.8,0.2 244.5,-6 243,-10.7 252.4,-15.4 265,-20 265,-24.7 252.4,-29.4 236.7,-29.4 227.2,-23.2 224.1,-13.8 225.7,-6"/>
<polygon class="f bl" points="164.3,17.4 171.5,28.3 186.4,34.6 192.6,34.6 208.4,33 222.5,26.7 227.2,20.5 220.9,12.7 211.5,4.9 200.5,-1.3 189.5,-2.9 186.4,-4.4 178.5,0.2 170.6,6.5 164.3,11.2"/>
<polygon class="f nv" points="174.3,19 179,23.6 189.5,24.5 200.5,22 205.2,17.4 202.1,9.6 192.6,5.7 181.6,6.5 175.5,11"/>
<polygon class="f ye" points="327.9,17.4 331,28.3 342,36.1 351.5,39.2 360,40.8 360,-32.5 353,-23.2 342,-12.3 332.6,-2.9 328.7,6.5"/>
<polygon class="f lo" points="337.3,11.2 342,20.5 351.5,25.2 360,25.2 360,-7.6 350,0.2 340.5,5"/>
<use href="#coast"/><use href="#coast" x="360"/>
<use href="#dots"/>
</g></g>

<!-- frames & ticks -->
<g fill="none" stroke="#000">
<rect x="45" y="74" width="763" height="235" stroke-width="1.8"/>
<rect x="45" y="409" width="763" height="235" stroke-width="1.8"/>
<rect x="45" y="745" width="763" height="235" stroke-width="1.8"/>
<line x1="44.4" y1="72" x2="809" y2="72" stroke-width="4" stroke-dasharray="1.2 9.3972"/>
<line x1="44.25" y1="70.5" x2="809" y2="70.5" stroke-width="7" stroke-dasharray="1.5 40.8889"/>
<line x1="44.4" y1="311" x2="809" y2="311" stroke-width="4" stroke-dasharray="1.2 9.3972"/>
<line x1="44.25" y1="312.5" x2="809" y2="312.5" stroke-width="7" stroke-dasharray="1.5 40.8889"/>
<line x1="43" y1="73.4" x2="43" y2="310" stroke-width="4" stroke-dasharray="1.2 9.4818"/>
<line x1="41.5" y1="73.25" x2="41.5" y2="310" stroke-width="7" stroke-dasharray="1.5 19.8636"/>
<line x1="810" y1="73.4" x2="810" y2="310" stroke-width="4" stroke-dasharray="1.2 9.4818"/>
<line x1="811.5" y1="73.25" x2="811.5" y2="310" stroke-width="7" stroke-dasharray="1.5 19.8636"/>
<line x1="44.4" y1="407" x2="809" y2="407" stroke-width="4" stroke-dasharray="1.2 9.3972"/>
<line x1="44.25" y1="405.5" x2="809" y2="405.5" stroke-width="7" stroke-dasharray="1.5 40.8889"/>
<line x1="44.4" y1="646" x2="809" y2="646" stroke-width="4" stroke-dasharray="1.2 9.3972"/>
<line x1="44.25" y1="647.5" x2="809" y2="647.5" stroke-width="7" stroke-dasharray="1.5 40.8889"/>
<line x1="43" y1="408.4" x2="43" y2="645" stroke-width="4" stroke-dasharray="1.2 9.4818"/>
<line x1="41.5" y1="408.25" x2="41.5" y2="645" stroke-width="7" stroke-dasharray="1.5 19.8636"/>
<line x1="810" y1="408.4" x2="810" y2="645" stroke-width="4" stroke-dasharray="1.2 9.4818"/>
<line x1="811.5" y1="408.25" x2="811.5" y2="645" stroke-width="7" stroke-dasharray="1.5 19.8636"/>
<line x1="44.4" y1="743" x2="809" y2="743" stroke-width="4" stroke-dasharray="1.2 9.3972"/>
<line x1="44.25" y1="741.5" x2="809" y2="741.5" stroke-width="7" stroke-dasharray="1.5 40.8889"/>
<line x1="44.4" y1="982" x2="809" y2="982" stroke-width="4" stroke-dasharray="1.2 9.3972"/>
<line x1="44.25" y1="983.5" x2="809" y2="983.5" stroke-width="7" stroke-dasharray="1.5 40.8889"/>
<line x1="43" y1="744.4" x2="43" y2="981" stroke-width="4" stroke-dasharray="1.2 9.4818"/>
<line x1="41.5" y1="744.25" x2="41.5" y2="981" stroke-width="7" stroke-dasharray="1.5 19.8636"/>
<line x1="810" y1="744.4" x2="810" y2="981" stroke-width="4" stroke-dasharray="1.2 9.4818"/>
<line x1="811.5" y1="744.25" x2="811.5" y2="981" stroke-width="7" stroke-dasharray="1.5 19.8636"/>
</g>

<text x="45" y="59" font-size="19">Today</text>
<text x="808" y="59" font-size="12" text-anchor="end" textLength="120" lengthAdjust="spacingAndGlyphs">[Updated: 8/10/2019]</text>
<text x="45" y="394" font-size="19">Week 1 Forecast</text>
<text x="808" y="394" font-size="12" text-anchor="end" textLength="295" lengthAdjust="spacingAndGlyphs">[0000 UTC 11 Aug 2019 - 0000 UTC 17 Aug 2019]</text>
<text x="45" y="730" font-size="19">Week 2 Forecast</text>
<text x="808" y="730" font-size="12" text-anchor="end" textLength="295" lengthAdjust="spacingAndGlyphs">[0000 UTC 18 Aug 2019 - 0000 UTC 24 Aug 2019]</text>
<text x="72" y="302" font-size="13" textLength="285" lengthAdjust="spacingAndGlyphs">Mike Ventrice www.mikeventrice.weebly.com</text>

<g font-size="13" text-anchor="end">
<text x="34" y="78.5">60N</text><text x="34" y="99.9">50N</text><text x="34" y="121.2">40N</text><text x="34" y="142.6">30N</text><text x="34" y="164">20N</text><text x="34" y="185.3">10N</text><text x="34" y="206.7">0</text><text x="34" y="228">10S</text><text x="34" y="249.4">20S</text><text x="34" y="270.8">30S</text><text x="34" y="292.1">40S</text><text x="34" y="313.5">50S</text>
<text x="34" y="413.5">60N</text><text x="34" y="434.9">50N</text><text x="34" y="456.2">40N</text><text x="34" y="477.6">30N</text><text x="34" y="499">20N</text><text x="34" y="520.3">10N</text><text x="34" y="541.7">0</text><text x="34" y="563">10S</text><text x="34" y="584.4">20S</text><text x="34" y="605.8">30S</text><text x="34" y="627.1">40S</text><text x="34" y="648.5">50S</text>
<text x="34" y="749.5">60N</text><text x="34" y="770.9">50N</text><text x="34" y="792.2">40N</text><text x="34" y="813.6">30N</text><text x="34" y="835">20N</text><text x="34" y="856.3">10N</text><text x="34" y="877.7">0</text><text x="34" y="899">10S</text><text x="34" y="920.4">20S</text><text x="34" y="941.8">30S</text><text x="34" y="963.1">40S</text><text x="34" y="984.5">50S</text>
</g>
<g font-size="12" text-anchor="middle">
<text x="45" y="335">0</text><text x="87.39" y="335">20E</text><text x="129.78" y="335">40E</text><text x="172.17" y="335">60E</text><text x="214.56" y="335">80E</text><text x="256.94" y="335">100E</text><text x="299.33" y="335">120E</text><text x="341.72" y="335">140E</text><text x="384.11" y="335">160E</text><text x="426.5" y="335">180</text><text x="468.89" y="335">160W</text><text x="511.28" y="335">140W</text><text x="553.67" y="335">120W</text><text x="596.06" y="335">100W</text><text x="638.44" y="335">80W</text><text x="680.83" y="335">60W</text><text x="723.22" y="335">40W</text><text x="765.61" y="335">20W</text><text x="808" y="335">0</text>
<text x="45" y="670">0</text><text x="87.39" y="670">20E</text><text x="129.78" y="670">40E</text><text x="172.17" y="670">60E</text><text x="214.56" y="670">80E</text><text x="256.94" y="670">100E</text><text x="299.33" y="670">120E</text><text x="341.72" y="670">140E</text><text x="384.11" y="670">160E</text><text x="426.5" y="670">180</text><text x="468.89" y="670">160W</text><text x="511.28" y="670">140W</text><text x="553.67" y="670">120W</text><text x="596.06" y="670">100W</text><text x="638.44" y="670">80W</text><text x="680.83" y="670">60W</text><text x="723.22" y="670">40W</text><text x="765.61" y="670">20W</text><text x="808" y="670">0</text>
<text x="45" y="1006">0</text><text x="87.39" y="1006">20E</text><text x="129.78" y="1006">40E</text><text x="172.17" y="1006">60E</text><text x="214.56" y="1006">80E</text><text x="256.94" y="1006">100E</text><text x="299.33" y="1006">120E</text><text x="341.72" y="1006">140E</text><text x="384.11" y="1006">160E</text><text x="426.5" y="1006">180</text><text x="468.89" y="1006">160W</text><text x="511.28" y="1006">140W</text><text x="553.67" y="1006">120W</text><text x="596.06" y="1006">100W</text><text x="638.44" y="1006">80W</text><text x="680.83" y="1006">60W</text><text x="723.22" y="1006">40W</text><text x="765.61" y="1006">20W</text><text x="808" y="1006">0</text>
</g>

<g stroke="#000" stroke-width="1">
<rect x="52.3" y="1023.3" width="34.06" height="21" fill="#ffb4d9"/>
<rect x="86.36" y="1023.3" width="34.06" height="21" fill="#ffa6ff"/>
<rect x="120.42" y="1023.3" width="34.06" height="21" fill="#ff40ff"/>
<rect x="154.48" y="1023.3" width="34.06" height="21" fill="#ff00ff"/>
<rect x="188.54" y="1023.3" width="34.06" height="21" fill="#9a00e6"/>
<rect x="222.6" y="1023.3" width="34.06" height="21" fill="#6600e6"/>
<rect x="256.66" y="1023.3" width="34.06" height="21" fill="#000096"/>
<rect x="290.72" y="1023.3" width="34.06" height="21" fill="#0000ff"/>
<rect x="324.78" y="1023.3" width="34.06" height="21" fill="#4466ff"/>
<rect x="358.84" y="1023.3" width="34.06" height="21" fill="#44b4f8"/>
<rect x="392.9" y="1023.3" width="34.06" height="21" fill="#ffffff"/>
<rect x="426.96" y="1023.3" width="34.06" height="21" fill="#ffffff"/>
<rect x="461.02" y="1023.3" width="34.06" height="21" fill="#e8e800"/>
<rect x="495.08" y="1023.3" width="34.06" height="21" fill="#fcd184"/>
<rect x="529.14" y="1023.3" width="34.06" height="21" fill="#f8a816"/>
<rect x="563.2" y="1023.3" width="34.06" height="21" fill="#ff0000"/>
<rect x="597.26" y="1023.3" width="34.06" height="21" fill="#e00000"/>
<rect x="631.32" y="1023.3" width="34.06" height="21" fill="#a80000"/>
<rect x="665.38" y="1023.3" width="34.06" height="21" fill="#7f5000"/>
<rect x="699.44" y="1023.3" width="34.06" height="21" fill="#ff7f90"/>
<rect x="733.5" y="1023.3" width="34.06" height="21" fill="#ffd8dc"/>
<rect x="767.56" y="1023.3" width="34.06" height="21" fill="#ffe8ec"/>
<rect x="52.3" y="1023.3" width="749.3" height="21" fill="none" stroke="#333" stroke-width="1.4"/>
</g>
<g font-size="14" text-anchor="middle">
<text x="86.36" y="1057">-5</text><text x="120.42" y="1057">-4.5</text><text x="154.48" y="1057">-4</text><text x="188.54" y="1057">-3.5</text><text x="222.6" y="1057">-3</text><text x="256.66" y="1057">-2.5</text><text x="290.72" y="1057">-2</text><text x="324.78" y="1057">-1.5</text><text x="358.84" y="1057">-1</text><text x="392.9" y="1057">-0.5</text><text x="426.96" y="1057">0</text><text x="461.02" y="1057">0.5</text><text x="495.08" y="1057">1</text><text x="529.14" y="1057">1.5</text><text x="563.2" y="1057">2</text><text x="597.26" y="1057">2.5</text><text x="631.32" y="1057">3</text><text x="665.38" y="1057">3.5</text><text x="699.44" y="1057">4</text><text x="733.5" y="1057">4.5</text><text x="767.56" y="1057">5</text>
</g>
</svg>
</body></html>
